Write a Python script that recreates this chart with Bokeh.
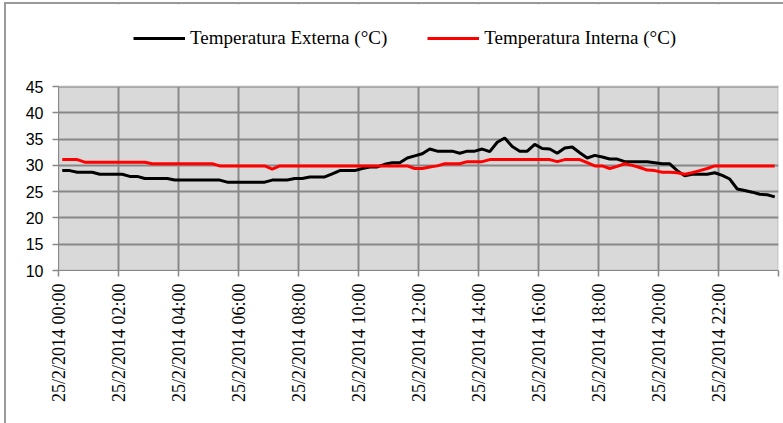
from bokeh.plotting import figure
from bokeh.models import FixedTicker, Legend, LegendItem, Range1d, BoxAnnotation
from bokeh.layouts import column
from bokeh.embed import file_html
from bokeh.resources import INLINE
import math

# Samples every 15 minutes over 25/2/2014 (96 readings)
hour_labels = ["25/2/2014 %02d:00" % h for h in range(0, 24, 2)]

temp_externa = [
    29.0, 29.0, 28.7, 28.7, 28.7, 28.3, 28.3, 28.3, 28.3, 27.9, 27.9, 27.5,
    27.5, 27.5, 27.5, 27.2, 27.2, 27.2, 27.2, 27.2, 27.2, 27.2, 26.8, 26.8,
    26.8, 26.8, 26.8, 26.8, 27.2, 27.2, 27.2, 27.5, 27.5, 27.8, 27.8, 27.8,
    28.4, 29.0, 29.0, 29.0, 29.4, 29.7, 29.7, 30.2, 30.5, 30.5, 31.4, 31.8,
    32.2, 33.1, 32.7, 32.7, 32.7, 32.3, 32.7, 32.7, 33.1, 32.6, 34.4, 35.2,
    33.6, 32.7, 32.7, 34.0, 33.2, 33.1, 32.3, 33.3, 33.5, 32.4, 31.4, 31.9,
    31.6, 31.2, 31.2, 30.7, 30.7, 30.7, 30.7, 30.5, 30.3, 30.3, 29.0, 28.0,
    28.3, 28.3, 28.3, 28.6, 28.1, 27.4, 25.5, 25.2, 24.9, 24.5, 24.4, 24.0,
]

temp_interna = [
    31.1, 31.1, 31.1, 30.6, 30.6, 30.6, 30.6, 30.6, 30.6, 30.6, 30.6, 30.6,
    30.3, 30.3, 30.3, 30.3, 30.3, 30.3, 30.3, 30.3, 30.3, 29.9, 29.9, 29.9,
    29.9, 29.9, 29.9, 29.9, 29.3, 29.9, 29.9, 29.9, 29.9, 29.9, 29.9, 29.9,
    29.9, 29.9, 29.9, 29.9, 29.9, 29.9, 29.9, 29.9, 29.9, 29.9, 29.9, 29.4,
    29.4, 29.7, 29.9, 30.3, 30.3, 30.3, 30.7, 30.7, 30.7, 31.1, 31.1, 31.1,
    31.1, 31.1, 31.1, 31.1, 31.1, 31.1, 30.7, 31.1, 31.1, 31.1, 30.5, 29.9,
    29.9, 29.4, 29.8, 30.3, 30.0, 29.6, 29.1, 29.0, 28.7, 28.7, 28.6, 28.3,
    28.6, 29.0, 29.4, 29.9, 29.9, 29.9, 29.9, 29.9, 29.9, 29.9, 29.9, 29.9,
]

y_ticks = [10, 15, 20, 25, 30, 35, 40, 45]
y_min, y_max = 10, 45

n = len(temp_externa)
xs = [i + 0.5 for i in range(n)]

SERIF = "'Liberation Serif', serif"
SANS = "'Liberation Sans', sans-serif"
GRID = "#888888"

# the frame also holds the legend strip above the value area
plot_h, legend_strip = 184, 82
y_top = y_max + legend_strip * (y_max - y_min) / plot_h

p = figure(width=777, height=419, output_backend="svg", toolbar_location=None,
           x_range=Range1d(0, n), y_range=Range1d(y_min, y_top),
           min_border_left=52, min_border_right=5, min_border_top=0,
           min_border_bottom=153)

p.background_fill_color = "white"
p.border_fill_color = "white"
p.outline_line_color = None

# grey value area behind the grid
p.add_layout(BoxAnnotation(top=y_max, fill_color="#d9d9d9", fill_alpha=1,
                           line_color=None, level="image"))

# grid
p.xgrid.ticker = FixedTicker(ticks=list(range(0, n + 1, 8)))
p.ygrid.ticker = FixedTicker(ticks=y_ticks)
for g in (p.xgrid, p.ygrid):
    g.grid_line_color = GRID
    g.grid_line_width = 2

# blank strip above the value area (hides grid lines there) and the area border
p.add_layout(BoxAnnotation(bottom=y_max, fill_color="white", fill_alpha=1,
                           line_color=None, level="underlay"))
p.add_layout(BoxAnnotation(top=y_max, fill_alpha=0, line_color=GRID,
                           line_width=2, level="underlay"))

# axes
p.xaxis.ticker = FixedTicker(ticks=list(range(0, n + 1, 8)))
overrides = {i * 8: lab for i, lab in enumerate(hour_labels)}
overrides[n] = ""
p.xaxis.major_label_overrides = overrides
p.xaxis.major_label_orientation = math.pi / 2
p.xaxis.major_label_text_font = SERIF
p.xaxis.major_label_text_font_size = "18px"
p.xaxis.major_label_text_color = "black"
p.xaxis.major_label_standoff = 7
p.yaxis.ticker = FixedTicker(ticks=y_ticks)
p.yaxis.bounds = (y_min, y_max)
p.yaxis.major_label_text_font = SANS
p.yaxis.major_label_text_font_size = "16px"
p.yaxis.major_label_text_color = "black"
p.yaxis.major_label_standoff = 9
for ax in (p.xaxis, p.yaxis):
    ax.axis_line_color = GRID
    ax.axis_line_width = 1
    ax.major_tick_line_color = GRID
    ax.major_tick_line_width = 1.5
    ax.major_tick_out = 6
    ax.major_tick_in = 0
    ax.minor_tick_line_color = None

r_ext = p.line(xs, temp_externa, line_color="black", line_width=3)
r_int = p.line(xs, temp_interna, line_color="#ff0000", line_width=3)

legend = Legend(items=[
    LegendItem(label="Temperatura Externa (°C)", renderers=[r_ext]),
    LegendItem(label="Temperatura Interna (°C)", renderers=[r_int]),
], orientation="horizontal", location=(75, 221))
legend.border_line_color = None
legend.background_fill_alpha = 0
legend.padding = 0
legend.margin = 0
legend.spacing = 40
legend.glyph_width = 52
legend.glyph_height = 20
legend.label_standoff = 5
legend.label_text_font = SERIF
legend.label_text_font_size = "19px"
legend.label_text_color = "black"
p.add_layout(legend, "center")

# outer chart frame (top and left edges)
page = column(p, margin=(2, 0, 0, 4),
              styles={"border-top": "2px solid #9a9a9a",
                      "border-left": "2px solid #9a9a9a"})

open("out.html", "w").write(file_html(page, INLINE))
